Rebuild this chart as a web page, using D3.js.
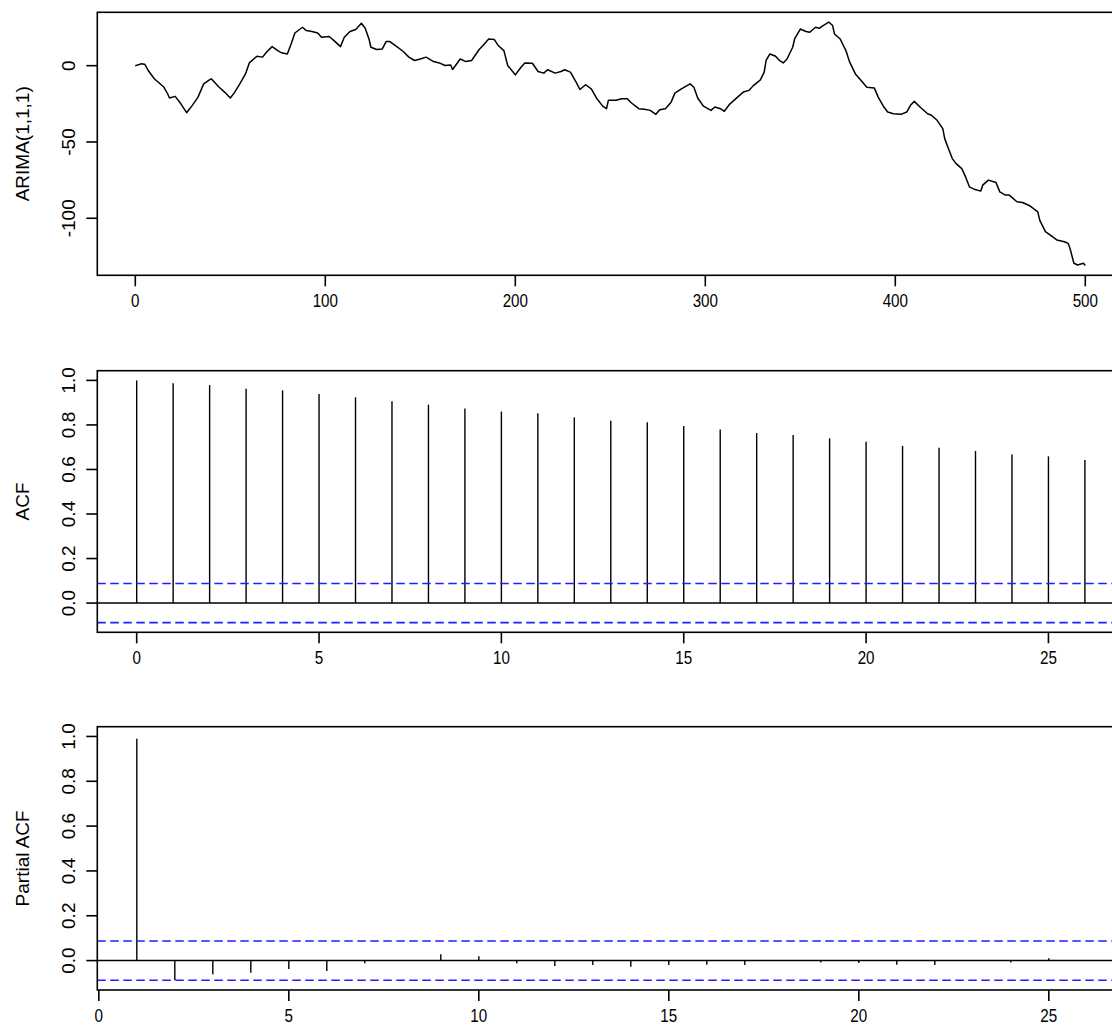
<!DOCTYPE html>
<html>
<head>
<meta charset="utf-8">
<script src="https://cdn.jsdelivr.net/npm/d3@7"></script>
<style>
  body { margin: 0; background: #fff; }
  svg { display: block; }
  text { font-family: "Liberation Sans", Arial, sans-serif; fill: #000; }
</style>
</head>
<body>
<script>
// Simulated ARIMA(1,1,1) path, time index and level
const seriesTime = [0, 3, 5, 7, 10, 15, 17, 18, 21, 24, 27, 30, 33, 36, 39, 40, 44, 47, 50, 52,
  55, 58, 60, 64, 67, 69, 72, 75, 77, 80, 82, 84, 88, 90, 93, 96, 98, 102, 104, 108,
  110, 113, 116, 119, 121, 123, 124, 127, 130, 132, 134, 138, 141, 144, 147, 150, 153, 157, 160, 163,
  166, 167, 171, 174, 177, 181, 183, 186, 189, 191, 194, 196, 200, 203, 205, 209, 212, 215, 217, 221,
  224, 226, 229, 232, 234, 237, 240, 243, 246, 248, 249, 253, 256, 259, 261, 265, 268, 271, 274, 276,
  279, 282, 284, 287, 289, 292, 294, 296, 299, 303, 305, 308, 310, 313, 317, 320, 323, 325, 329, 331,
  332, 334, 337, 339, 341, 343, 346, 347, 350, 353, 355, 358, 360, 362, 365, 367, 368, 371, 374, 376,
  379, 382, 385, 389, 391, 394, 396, 399, 403, 406, 408, 410, 413, 417, 419, 422, 425, 426, 428, 430,
  432, 435, 437, 439, 442, 445, 446, 449, 453, 455, 458, 460, 464, 467, 471, 475, 476, 479, 482, 485,
  489, 491, 492, 494, 496, 499, 500];
const seriesValue = [0, 1.2, 0.9, -3.5, -8.6, -14, -18.4, -21.2, -20.1, -25, -30.8, -26, -20.6, -11.9, -9.3, -8.6, -14, -17.3, -21.2, -18,
  -11.9, -5.4, 1.8, 6.2, 5.6, 8.8, 12.5, 9.9, 8.4, 7.7, 14.2, 21.4, 25.2, 23, 22.4, 21.4, 18.6, 19.1, 17.1, 12.5,
  18.6, 22.4, 23.7, 27.8, 24.5, 17.5, 12.1, 10.6, 11, 15.8, 15.8, 12.1, 9.3, 5.6, 3.4, 4.4, 5.6, 2.7, 1.8, 0.1,
  0.5, -2.5, 4.4, 2.7, 3.4, 10.6, 13.2, 17.5, 17.1, 13.2, 9.9, 0.1, -6, -1, 1.8, 1.6, -3.8, -4.9, -2.7, -4.9,
  -3.8, -2.7, -4.2, -10.8, -15.6, -12.5, -15.2, -21.7, -26.5, -28.2, -22.7, -22.7, -21.7, -21.7, -24.3, -28.2, -28.6, -29.3, -31.9, -28.9,
  -28.2, -23.9, -18, -15.6, -14.1, -11.9, -14.1, -21.2, -26.5, -29.3, -27.1, -28.2, -29.9, -25, -20.6, -17.3, -16.2, -13.4, -9.3, -4.2,
  3.4, 7.7, 6.2, 3.4, 1.8, 4.4, 12.1, 17.5, 24, 22.4, 21.9, 25.2, 24.5, 26.3, 28.6, 26.3, 20.8, 17.5, 9.9, 2.3,
  -5.4, -9.7, -14.1, -14.7, -20.6, -27.1, -30.4, -31.5, -31.9, -30.4, -26, -23.4, -27.1, -31.5, -32.5, -35.8, -41.3, -47.8, -54.4, -60.9,
  -64.2, -67.5, -72.9, -79.4, -81.2, -82.2, -78.3, -75, -76.6, -82.7, -84.8, -84.8, -89.2, -89.7, -92, -95.8, -101.2, -108.8, -111.4, -114.2,
  -115.4, -116.5, -120, -129.5, -130.6, -129.5, -131];

// Sample autocorrelations, lags 0..27
const acfLags = [0, 1, 2, 3, 4, 5, 6, 7, 8, 9, 10, 11, 12, 13, 14, 15, 16, 17, 18, 19, 20, 21, 22, 23, 24, 25, 26, 27];
const acfValues = [1.000, 0.987, 0.979, 0.963, 0.955, 0.939, 0.924, 0.906, 0.891, 0.874, 0.860, 0.852, 0.834, 0.819,
  0.812, 0.795, 0.779, 0.764, 0.755, 0.740, 0.724, 0.706, 0.698, 0.683, 0.667, 0.659, 0.643, 0.630];

// Sample partial autocorrelations, lags 1..27
const pacfLags = [1, 2, 3, 4, 5, 6, 7, 8, 9, 10, 11, 12, 13, 14, 15, 16, 17, 18, 19, 20, 21, 22, 23, 24, 25, 26, 27];
const pacfValues = [0.990, -0.088, -0.061, -0.054, -0.037, -0.046, -0.012, 0.003, 0.028, 0.019, -0.012, -0.024, -0.020,
  -0.027, -0.020, -0.018, -0.020, 0.002, -0.009, -0.011, -0.018, -0.020, -0.002, -0.009, 0.011, 0.003, -0.010];

// White-noise band, 1.96/sqrt(n)
const ciBound = 0.0876;

// Axis tick values
const seriesXTicks = [0, 100, 200, 300, 400, 500];
const seriesYTicks = [-100, -50, 0];
const lagTicks = [0, 5, 10, 15, 20, 25];
const corrTicks = [0, 0.2, 0.4, 0.6, 0.8, 1.0];

const W = 1112, H = 1036;
const svg = d3.select("body").append("svg").attr("width", W).attr("height", H);

const LEFT = 97.3;
const FONT = 19;
const XSCALE_TEXT = 0.8;
const TICK = 11;

// pad a range by 4% on each side, like base graphics
function pad4(lo, hi) { const d = (hi - lo) * 0.04; return [lo - d, hi + d]; }

function frame(g, top, bottom, right) {
  g.append("rect")
    .attr("x", LEFT).attr("y", top)
    .attr("width", right - LEFT).attr("height", bottom - top)
    .attr("fill", "none").attr("stroke", "#000").attr("stroke-width", 1.6);
}

function xAxis(g, x, ticks, bottom, fmt) {
  ticks.forEach(t => {
    const px = x(t);
    g.append("line").attr("x1", px).attr("x2", px).attr("y1", bottom).attr("y2", bottom + TICK)
      .attr("stroke", "#000").attr("stroke-width", 1.6);
    g.append("text")
      .attr("transform", `translate(${px},${bottom + 31.5}) scale(${XSCALE_TEXT},1)`)
      .attr("text-anchor", "middle").attr("font-size", FONT)
      .text(fmt(t));
  });
}

function yAxis(g, y, ticks, fmt) {
  ticks.forEach(t => {
    const py = y(t);
    g.append("line").attr("x1", LEFT - TICK).attr("x2", LEFT).attr("y1", py).attr("y2", py)
      .attr("stroke", "#000").attr("stroke-width", 1.6);
    g.append("text")
      .attr("transform", `translate(${LEFT - 22.5},${py}) rotate(-90)`)
      .attr("text-anchor", "middle").attr("font-size", FONT)
      .text(fmt(t));
  });
}

function yTitle(g, label, top, bottom) {
  g.append("text")
    .attr("transform", `translate(29,${(top + bottom) / 2}) rotate(-90)`)
    .attr("text-anchor", "middle").attr("font-size", FONT)
    .text(label);
}

// ---- Panel 1: the series itself ----
{
  const top = 12.3, bottom = 275.3;
  const g = svg.append("g");
  const x = d3.scaleLinear([-20, 520], [LEFT, LEFT + 1026]);
  const y = d3.scaleLinear(pad4(d3.min(seriesValue), d3.max(seriesValue)), [bottom, top]);
  const pts = seriesTime.map((t, i) => [t, seriesValue[i]]);
  g.append("path")
    .attr("d", d3.line().x(d => x(d[0])).y(d => y(d[1]))(pts))
    .attr("fill", "none").attr("stroke", "#000").attr("stroke-width", 1.5)
    .attr("stroke-linejoin", "round");
  frame(g, top, bottom, x.range()[1]);
  xAxis(g, x, seriesXTicks, bottom, d3.format("d"));
  yAxis(g, y, seriesYTicks, d => d3.format("d")(d).replace("\u2212", "-"));
  yTitle(g, "ARIMA(1,1,1)", top, bottom);
}

// ---- Correlogram panels ----
function correlogram(lags, values, xDomain, perLag, top, bottom, title) {
  const g = svg.append("g");
  const x = d3.scaleLinear(xDomain, [LEFT, LEFT + (xDomain[1] - xDomain[0]) * perLag]);
  const y = d3.scaleLinear([-0.1312, 1.0435], [bottom, top]);
  const right = x.range()[1];
  // zero line
  g.append("line").attr("x1", LEFT).attr("x2", right).attr("y1", y(0)).attr("y2", y(0))
    .attr("stroke", "#000").attr("stroke-width", 1.5);
  // spikes
  g.selectAll("line.spike").data(lags).join("line").attr("class", "spike")
    .attr("x1", d => x(d)).attr("x2", d => x(d))
    .attr("y1", y(0)).attr("y2", (d, i) => y(values[i]))
    .attr("stroke", "#000").attr("stroke-width", 1.4);
  // confidence band
  [ciBound, -ciBound].forEach(c => {
    g.append("line").attr("x1", LEFT).attr("x2", right).attr("y1", y(c)).attr("y2", y(c))
      .attr("stroke", "#1f1fff").attr("stroke-width", 1.6).attr("stroke-dasharray", "8.5,4.5");
  });
  frame(g, top, bottom, right);
  xAxis(g, x, lagTicks, bottom, d3.format("d"));
  yAxis(g, y, corrTicks, d3.format(".1f"));
  yTitle(g, title, top, bottom);
}

correlogram(acfLags, acfValues, [-1.08, 28.08], 36.47, 370.7, 632.3, "ACF");
correlogram(pacfLags, pacfValues, [-0.04, 28.04], 38.0, 726.7, 990, "Partial ACF");
</script>
</body>
</html>
